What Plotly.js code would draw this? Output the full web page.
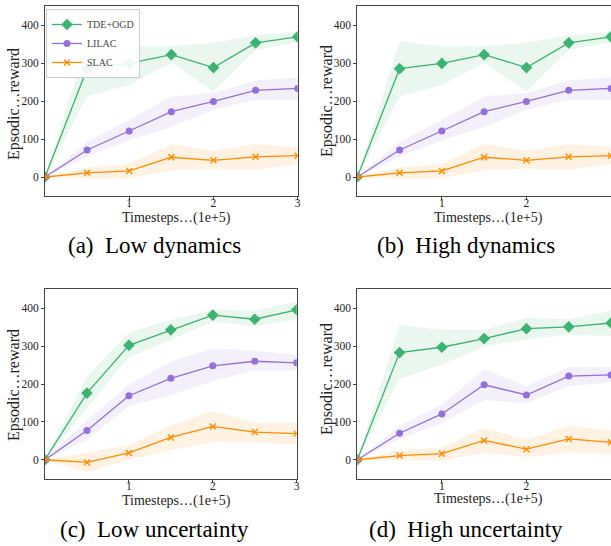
<!DOCTYPE html>
<html>
<head>
<meta charset="utf-8">
<script src="https://cdn.plot.ly/plotly-3.0.1.min.js"></script>
</head>
<body style="margin:0">
<div id="chart" style="width:611px;height:546px"></div>
<script>
// ---- data ----
const timesteps = [0, 0.5, 1, 1.5, 2, 2.5, 3];
const xTicks = [1, 2, 3];
const yTicks = [0, 100, 200, 300, 400];
const seriesNames = ["TDE+OGD", "LILAC", "SLAC"];
const captions = ["(a)\u2002Low dynamics", "(b)\u2002High dynamics", "(c)\u2002Low uncertainty", "(d)\u2002High uncertainty"];

// (a) Low dynamics
const tdeLowDyn = [0, 285, 299, 322, 288, 353, 369];
const tdeLowDynHi = [0, 357, 344, 344, 353, 373, 383];
const tdeLowDynLo = [0, 212, 243, 300, 225, 334, 355];
const lilacLowDyn = [0, 71, 121, 172, 199, 228, 233];
const lilacLowDynHi = [0, 93, 150, 212, 221, 254, 262];
const lilacLowDynLo = [0, 53, 97, 132, 177, 203, 203];
const slacLowDyn = [0, 11, 16, 52, 44, 53, 56];
const slacLowDynHi = [0, 25, 35, 87, 69, 87, 79];
const slacLowDynLo = [0, -4, -4, 18, 22, 19, 34];

// (b) High dynamics
const tdeHighDyn = [0, 285, 299, 322, 288, 353, 369];
const tdeHighDynHi = [0, 357, 344, 344, 353, 373, 383];
const tdeHighDynLo = [0, 212, 243, 300, 225, 334, 355];
const lilacHighDyn = [0, 71, 121, 172, 199, 228, 233];
const lilacHighDynHi = [0, 93, 150, 212, 221, 254, 262];
const lilacHighDynLo = [0, 53, 97, 132, 177, 203, 203];
const slacHighDyn = [0, 11, 16, 52, 44, 53, 56];
const slacHighDynHi = [0, 25, 35, 87, 69, 87, 79];
const slacHighDynLo = [0, -4, -4, 18, 22, 19, 34];

// (c) Low uncertainty
const tdeLowUnc = [0, 176, 302, 343, 382, 371, 396];
const tdeLowUncHi = [0, 220, 336, 369, 397, 394, 418];
const tdeLowUncLo = [0, 136, 271, 316, 365, 352, 371];
const lilacLowUnc = [0, 77, 169, 215, 248, 260, 256];
const lilacLowUncHi = [0, 105, 198, 259, 293, 288, 277];
const lilacLowUncLo = [0, 53, 141, 171, 207, 236, 236];
const slacLowUnc = [0, -7, 18, 59, 88, 73, 69];
const slacLowUncHi = [0, 18, 38, 92, 129, 98, 98];
const slacLowUncLo = [0, -33, 0, 26, 47, 46, 40];

// (d) High uncertainty
const tdeHighUnc = [0, 283, 297, 320, 346, 351, 361];
const tdeHighUncHi = [0, 356, 343, 343, 375, 371, 394];
const tdeHighUncLo = [0, 213, 251, 299, 318, 330, 327];
const lilacHighUnc = [0, 70, 121, 198, 171, 221, 224];
const lilacHighUncHi = [0, 90, 145, 239, 194, 244, 244];
const lilacHighUncLo = [0, 55, 98, 158, 149, 195, 204];
const slacHighUnc = [0, 11, 16, 51, 28, 55, 46];
const slacHighUncHi = [0, 25, 33, 84, 53, 90, 77];
const slacHighUncLo = [0, -2, -2, 18, 7, 19, 16];

// ---- styling ----
const W = 611, H = 546;
const SERIF = "Liberation Serif";
const colors = ["#3cb371", "#9370db", "#ff8c00"];
const fills = ["rgba(60,179,113,0.11)", "rgba(147,112,219,0.11)", "rgba(255,140,0,0.11)"];
const symbols = ["diamond", "circle", "x-thin"];
const msizes = [9, 7, 6];

const panels = [
  {data: [[tdeLowDyn, tdeLowDynHi, tdeLowDynLo], [lilacLowDyn, lilacLowDynHi, lilacLowDynLo], [slacLowDyn, slacLowDynHi, slacLowDynLo]],
   px: [45, 297.7], py: [6, 196], xl: [176.7, 218], yl: [14, 104], cap: [154, 246]},
  {data: [[tdeHighDyn, tdeHighDynHi, tdeHighDynLo], [lilacHighDyn, lilacHighDynHi, lilacHighDynLo], [slacHighDyn, slacHighDynHi, slacHighDynLo]],
   px: [357.3, 611], py: [6, 196], xl: [488.8, 218], yl: [327, 101], cap: [466, 246]},
  {data: [[tdeLowUnc, tdeLowUncHi, tdeLowUncLo], [lilacLowUnc, lilacLowUncHi, lilacLowUncLo], [slacLowUnc, slacLowUncHi, slacLowUncLo]],
   px: [45, 296.7], py: [289.3, 478.7], xl: [176.7, 501], yl: [14, 385], cap: [154, 529]},
  {data: [[tdeHighUnc, tdeHighUncHi, tdeHighUncLo], [lilacHighUnc, lilacHighUncHi, lilacHighUncLo], [slacHighUnc, slacHighUncHi, slacHighUncLo]],
   px: [357.3, 611], py: [289.3, 478.7], xl: [488.8, 499], yl: [327, 379], cap: [466, 529]}
];

const traces = [];
const layout = {
  width: W, height: H,
  margin: {l: 0, r: 0, t: 0, b: 0},
  paper_bgcolor: "#ffffff", plot_bgcolor: "#ffffff",
  showlegend: true,
  legend: {x: 46 / W, y: 1 - 9 / H, xanchor: "left", yanchor: "top",
           font: {family: SERIF, size: 10}, bgcolor: "rgba(255,255,255,0.9)",
           bordercolor: "#cccccc", borderwidth: 1, itemwidth: 30, tracegroupgap: 0},
  annotations: []
};

panels.forEach((p, i) => {
  const n = i + 1;
  const xa = "x" + (n === 1 ? "" : n), ya = "y" + (n === 1 ? "" : n);
  const xk = "xaxis" + (n === 1 ? "" : n), yk = "yaxis" + (n === 1 ? "" : n);
  const axisCommon = {showline: true, mirror: true, linecolor: "#444", linewidth: 1,
    ticks: "outside", ticklen: 3, tickwidth: 1, tickcolor: "#444", showgrid: false, zeroline: false,
    tickfont: {family: SERIF, size: 11.5, color: "#222"}};
  layout[xk] = Object.assign({}, axisCommon, {domain: [p.px[0] / W, p.px[1] / W], range: [0, 3],
    tickvals: xTicks, ticktext: xTicks.map(String), anchor: ya, ticklabelstandoff: -7});
  layout[yk] = Object.assign({}, axisCommon, {domain: [1 - p.py[1] / H, 1 - p.py[0] / H], range: [-50, 450],
    tickvals: yTicks, ticktext: yTicks.map(String), anchor: xa});
  // bands
  p.data.forEach((s, k) => {
    traces.push({x: timesteps.concat(timesteps.slice().reverse()), y: s[1].concat(s[2].slice().reverse()),
      xaxis: xa, yaxis: ya, mode: "lines", fill: "toself", fillcolor: fills[k],
      line: {width: 0, color: fills[k]}, hoverinfo: "skip", showlegend: false});
  });
  // lines
  p.data.forEach((s, k) => {
    traces.push({x: timesteps, y: s[0], xaxis: xa, yaxis: ya, mode: "lines+markers", name: seriesNames[k],
      line: {color: colors[k], width: 1.3},
      marker: {symbol: symbols[k], size: msizes[k], color: colors[k], line: {color: colors[k], width: k === 2 ? 1.4 : 0}},
      showlegend: i === 0});
  });
  layout.annotations.push(
    {xref: "paper", yref: "paper", x: p.xl[0] / W, y: 1 - p.xl[1] / H, xanchor: "center", yanchor: "middle",
     text: "Timesteps\u2026(1e+5)", showarrow: false, font: {family: SERIF, size: 14, color: "#222"}},
    {xref: "paper", yref: "paper", x: p.yl[0] / W, y: 1 - p.yl[1] / H, xanchor: "center", yanchor: "middle",
     text: "Epsodic\u2026reward", textangle: -90, showarrow: false, font: {family: SERIF, size: 16, color: "#222"}},
    {xref: "paper", yref: "paper", x: p.cap[0] / W, y: 1 - p.cap[1] / H, xanchor: "center", yanchor: "middle",
     text: captions[i], showarrow: false, font: {family: SERIF, size: 23, color: "#000000"}}
  );
});

Plotly.newPlot("chart", traces, layout, {displayModeBar: false});
</script>
</body>
</html>
